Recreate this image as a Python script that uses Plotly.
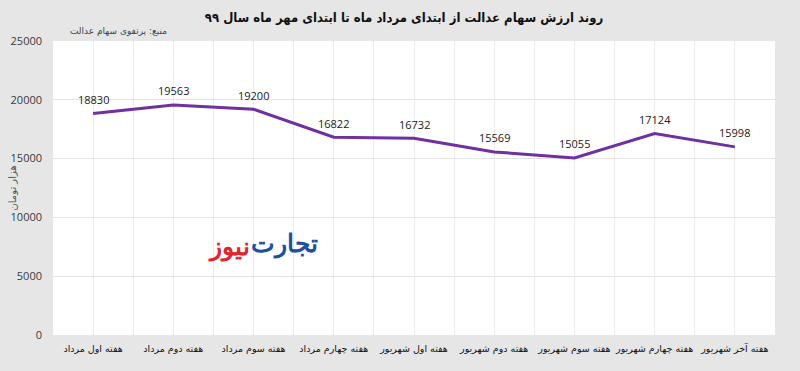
import plotly.graph_objects as go

categories = ["هفته اول مرداد", "هفته دوم مرداد", "هفته سوم مرداد", "هفته چهارم مرداد",
              "هفته اول شهریور", "هفته دوم شهریور", "هفته سوم شهریور", "هفته چهارم شهریور",
              "هفته آخر شهریور"]
values = [18830, 19563, 19200, 16822, 16732, 15569, 15055, 17124, 15998]
y_ticks = [0, 5000, 10000, 15000, 20000, 25000]

L, R, T, B = 52.5, 25, 40.5, 36
W, H = 800, 371
pw, ph = W - L - R, H - T - B

def px(x):
    return (x - L) / pw

def py(y):
    return (H - B - y) / ph

xs = list(range(len(categories)))

fig = go.Figure()
fig.add_trace(go.Scatter(
    x=xs, y=values, mode="lines",
    line=dict(color="#7030A0", width=3),
    hoverinfo="skip"))

for x, v in zip(xs, values):
    fig.add_annotation(x=x, y=v, text=str(v), showarrow=False, yshift=14,
                       xanchor="center", yanchor="middle",
                       font=dict(size=11, color="#1a1a1a", family="Open Sans"))

fig.update_layout(
    width=W, height=H,
    margin=dict(l=L, r=R, t=T, b=B, autoexpand=False),
    paper_bgcolor="#e6e6e6", plot_bgcolor="#ffffff",
    showlegend=False,
    font=dict(family="DejaVu Sans", color="#1a1a1a"),
    title=dict(text="<b>روند ارزش سهام عدالت از ابتدای مرداد ماه تا ابتدای مهر ماه سال ۹۹</b>",
               x=0.505, xanchor="center", y=1 - 17 / H, yanchor="middle",
               font=dict(size=13, color="#111111", family="DejaVu Sans Condensed")),
)
fig.update_xaxes(
    range=[-0.5, len(categories) - 0.5], automargin=False,
    tickvals=xs, ticktext=categories,
    tickfont=dict(size=9.5, color="#111111", family="DejaVu Sans"),
    showgrid=True, gridcolor="#ececec", gridwidth=1,
    minor=dict(tickvals=[i + 0.5 for i in range(len(categories) - 1)], showgrid=True,
               gridcolor="#ececec", gridwidth=1, ticks=""),
    zeroline=False, showline=False, ticks="", ticklabelstandoff=6)
fig.update_yaxes(
    range=[0, 25000], tickvals=y_ticks, ticktext=[str(t) for t in y_ticks], automargin=False,
    tickfont=dict(size=11, color="#3a3a3a", family="Open Sans"),
    showgrid=True, gridcolor="#e3e3e3", gridwidth=1,
    zeroline=False, showline=False, ticks="", ticklabelstandoff=10)

fig.add_annotation(text="هزار تومان", x=px(11), y=0.5, xref="paper", yref="paper",
                   textangle=-90, showarrow=False, xanchor="center", yanchor="middle",
                   font=dict(size=10, color="#555555", family="DejaVu Sans"))
fig.add_annotation(text="منبع: پرتفوی سهام عدالت", x=px(118), y=py(30), xref="paper", yref="paper",
                   showarrow=False, xanchor="center", yanchor="middle",
                   font=dict(size=9, color="#444444", family="DejaVu Sans"))
fig.add_annotation(text="<b>تجارت</b>", x=px(284), y=py(242), xref="paper", yref="paper",
                   showarrow=False, xanchor="center", yanchor="middle",
                   font=dict(size=25, color="#1f4f9e", family="Noto Sans"))
fig.add_annotation(text="<b>نیوز</b>", x=px(229), y=py(245), xref="paper", yref="paper",
                   showarrow=False, xanchor="center", yanchor="middle",
                   font=dict(size=25, color="#e0262c", family="Noto Sans"))

fig.write_html("out.html", config={"displayModeBar": False},
               post_script="document.body.style.margin='0';")
